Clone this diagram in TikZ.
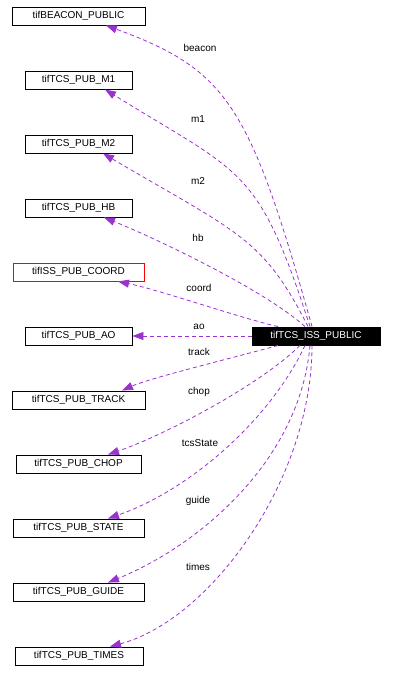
\documentclass[tikz,border=0pt]{standalone}
\usepackage{fontspec}
\setmainfont{Liberation Sans}
\usetikzlibrary{arrows.meta}
\definecolor{edgepurple}{RGB}{154,50,205}

\begin{document}
\begin{tikzpicture}[x=1pt, y=-1pt, >={Triangle[length=11pt,width=8pt]},
  cls/.style={draw,line width=0.9pt,minimum height=18pt,inner sep=0pt,font=\fontsize{10}{12}\selectfont},
  main/.style={cls,fill=black,text=white},
  e/.style={->,edgepurple,line width=0.8pt,dash pattern=on 4pt off 3pt},
  lbl/.style={font=\fontsize{10}{12}\selectfont,inner sep=0pt}]
\useasboundingbox (0,0) rectangle (394,682);

\node[main,minimum width=128pt] (iss) at (316,336) {tifTCS\_ISS\_PUBLIC};

\node[cls,minimum width=133pt] (beacon) at (78.5,16) {tifBEACON\_PUBLIC};
\node[cls,minimum width=107pt] (m1) at (78.5,80) {tifTCS\_PUB\_M1};
\node[cls,minimum width=107pt] (m2) at (78.5,144) {tifTCS\_PUB\_M2};
\node[cls,minimum width=107pt] (hb) at (78.5,208) {tifTCS\_PUB\_HB};
\node[cls,draw=red,minimum width=131pt] (coord) at (78.5,272) {tifISS\_PUB\_COORD};
\node[cls,minimum width=107pt] (ao) at (78.5,336) {tifTCS\_PUB\_AO};
\node[cls,minimum width=133pt] (track) at (78.5,400) {tifTCS\_PUB\_TRACK};
\node[cls,minimum width=125pt] (chop) at (78.5,464) {tifTCS\_PUB\_CHOP};
\node[cls,minimum width=131pt] (state) at (78.5,528) {tifTCS\_PUB\_STATE};
\node[cls,minimum width=131pt] (guide) at (78.5,592) {tifTCS\_PUB\_GUIDE};
\node[cls,minimum width=128pt] (times) at (79,656) {tifTCS\_PUB\_TIMES};

% members above
\draw[e] ([xshift=-4pt]iss.north) .. controls (250,106) and (228,70) .. ([xshift=27.5pt]beacon.south);
\draw[e] ([xshift=-6pt]iss.north) .. controls (258,166) and (243,175) .. ([xshift=26.5pt]m1.south);
\draw[e] ([xshift=-8pt]iss.north) .. controls (263,238) and (240,234) .. ([xshift=24.5pt]m2.south);
\draw[e] ([xshift=-11pt]iss.north) .. controls (262,288) and (150,236) .. ([xshift=25.5pt]hb.south);
\draw[e] ([xshift=-38pt]iss.north) .. controls (240,318) and (160,290) .. ([xshift=39.5pt]coord.south);
\draw[e] (iss.west) -- (ao.east);
% members below
\draw[e] ([xshift=-38pt]iss.south) .. controls (240,356) and (150,378) .. ([xshift=43.5pt]track.north);
\draw[e] ([xshift=-16pt]iss.south) .. controls (260,385) and (165,435) .. ([xshift=29.5pt]chop.north);
\draw[e] ([xshift=-11pt]iss.south) .. controls (270,420) and (190,490) .. ([xshift=29.5pt]state.north);
\draw[e] ([xshift=-6pt]iss.south) .. controls (300,460) and (200,545) .. ([xshift=29.5pt]guide.north);
\draw[e] ([xshift=-4pt]iss.south) .. controls (312,480) and (210,620) .. ([xshift=31pt]times.north);

\node[lbl] (lbeacon) at (200,48) {beacon};
\node[lbl] (lm1) at (198,119) {m1};
\node[lbl] (lm2) at (198,181) {m2};
\node[lbl] (lhb) at (198,238) {hb};
\node[lbl] (lcoord) at (199,288) {coord};
\node[lbl] (lao) at (199,327) {ao};
\node[lbl] (ltrack) at (199,352) {track};
\node[lbl] (lchop) at (199,392) {chop};
\node[lbl] (lstate) at (200,443) {tcsState};
\node[lbl] (lguide) at (198,501) {guide};
\node[lbl] (ltimes) at (198,567) {times};
\end{tikzpicture}
\end{document}
